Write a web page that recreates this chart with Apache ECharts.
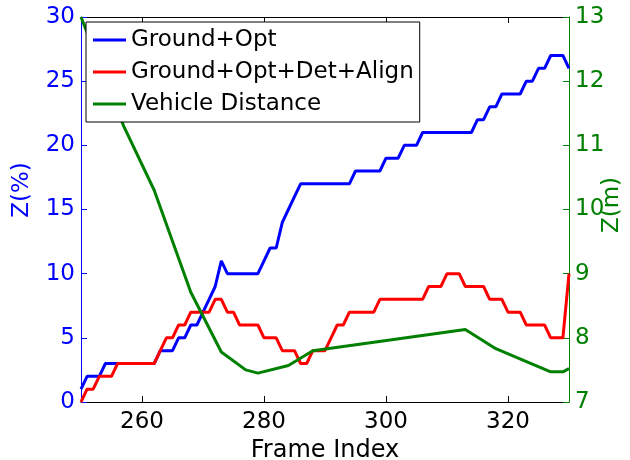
<!DOCTYPE html>
<html>
<head>
<meta charset="utf-8">
<script src="https://cdn.jsdelivr.net/npm/echarts@6/dist/echarts.min.js"></script>
<style>
  html, body { margin: 0; padding: 0; background: #fff; }
  #chart { width: 630px; height: 460px; }
</style>
</head>
<body>
<div id="chart"></div>
<script>
// Frame indices shared by the two percentage series
const frames = [
  250, 251, 252, 253, 254, 255, 256, 257, 258, 259,
  260, 261, 262, 263, 264, 265, 266, 267, 268, 269,
  270, 271, 272, 273, 274, 275, 276, 277, 278, 279,
  280, 281, 282, 283, 284, 285, 286, 287, 288, 289,
  290, 291, 292, 293, 294, 295, 296, 297, 298, 299,
  300, 301, 302, 303, 304, 305, 306, 307, 308, 309,
  310, 311, 312, 313, 314, 315, 316, 317, 318, 319,
  320, 321, 322, 323, 324, 325, 326, 327, 328, 329,
  330
];

// Z (%) for Ground+Opt
const groundOpt = [
  1, 2, 2, 2, 3, 3, 3, 3, 3, 3,
  3, 3, 3, 4, 4, 4, 5, 5, 6, 6,
  7, 8, 9, 11, 10, 10, 10, 10, 10, 10,
  11, 12, 12, 14, 15, 16, 17, 17, 17, 17,
  17, 17, 17, 17, 17, 18, 18, 18, 18, 18,
  19, 19, 19, 20, 20, 20, 21, 21, 21, 21,
  21, 21, 21, 21, 21, 22, 22, 23, 23, 24,
  24, 24, 24, 25, 25, 26, 26, 27, 27, 27,
  26
];

// Z (%) for Ground+Opt+Det+Align
const groundOptDetAlign = [
  0, 1, 1, 2, 2, 2, 3, 3, 3, 3,
  3, 3, 3, 4, 5, 5, 6, 6, 7, 7,
  7, 7, 8, 8, 7, 7, 6, 6, 6, 6,
  5, 5, 5, 4, 4, 4, 3, 3, 4, 4,
  4, 5, 6, 6, 7, 7, 7, 7, 7, 8,
  8, 8, 8, 8, 8, 8, 8, 9, 9, 9,
  10, 10, 10, 9, 9, 9, 9, 8, 8, 8,
  7, 7, 7, 6, 6, 6, 6, 5, 5, 5,
  10
];

// Vehicle distance Z (m), right axis
const distFrames = [250, 257, 262, 268, 273, 277, 279, 284, 288, 313, 318, 327, 329, 330];
const distValues = [13.0, 11.3, 10.3, 8.71, 7.78, 7.50, 7.45, 7.57, 7.80, 8.13, 7.83, 7.47, 7.47, 7.52];

// Axis ticks
const xTicks = [260, 280, 300, 320];
const seriesNames = ['Ground+Opt', 'Ground+Opt+Det+Align', 'Vehicle Distance'];

const FONT = 'DejaVu Sans';
const BLUE = '#0000ff';
const RED = '#ff0000';
const GREEN = '#008000';

const pairs = (xs, ys) => xs.map((x, i) => [x, ys[i]]);

const chart = echarts.init(document.getElementById('chart'), null, { renderer: 'canvas' });

chart.setOption({
  animation: false,
  backgroundColor: '#ffffff',
  grid: { left: 81, right: 61, top: 17, bottom: 58, containLabel: false, outerBoundsMode: 'none' },
  legend: {
    orient: 'vertical',
    left: 86,
    top: 22,
    data: seriesNames.map(n => ({ name: n, icon: 'rect' })),
    itemWidth: 33,
    itemHeight: 3,
    itemGap: 8,
    padding: [6, 6, 6, 7],
    backgroundColor: '#ffffff',
    borderColor: '#000000',
    borderWidth: 1,
    textStyle: { fontFamily: FONT, fontSize: 23, color: '#000', lineHeight: 24 },
    z: 10
  },
  xAxis: [
    {
      type: 'value',
      position: 'bottom',
      min: 250,
      max: 330,
      name: 'Frame Index',
      nameLocation: 'middle',
      nameGap: 33,
      nameTextStyle: { fontFamily: FONT, fontSize: 24, color: '#000' },
      axisLine: { lineStyle: { color: '#000', width: 1 } },
      axisTick: { inside: true, length: 6, customValues: xTicks, lineStyle: { color: '#000' } },
      axisLabel: { customValues: xTicks, fontFamily: FONT, fontSize: 23, color: '#000', margin: 9 },
      splitLine: { show: false }
    },
    {
      type: 'value',
      position: 'top',
      min: 250,
      max: 330,
      axisLine: { lineStyle: { color: '#000', width: 1 } },
      axisTick: { inside: true, length: 6, customValues: xTicks, lineStyle: { color: '#000' } },
      axisLabel: { show: false },
      splitLine: { show: false }
    }
  ],
  yAxis: [
    {
      type: 'value',
      position: 'left',
      min: 0,
      max: 30,
      interval: 5,
      axisLine: { show: true, lineStyle: { color: BLUE, width: 1 } },
      axisTick: { show: true, inside: true, length: 6, lineStyle: { color: BLUE } },
      axisLabel: { fontFamily: FONT, fontSize: 23, color: BLUE, margin: 6 },
      splitLine: { show: false }
    },
    {
      type: 'value',
      position: 'right',
      min: 7,
      max: 13,
      interval: 1,
      axisLine: { show: true, lineStyle: { color: GREEN, width: 1 } },
      axisTick: { show: true, inside: true, length: 6, lineStyle: { color: GREEN } },
      axisLabel: { fontFamily: FONT, fontSize: 23, color: GREEN, margin: 6 },
      splitLine: { show: false }
    }
  ],
  graphic: [
    {
      type: 'text',
      x: 22, y: 190,
      rotation: Math.PI / 2,
      style: { text: 'Z(%)', fontFamily: FONT, fontSize: 23, fill: BLUE, align: 'center', verticalAlign: 'middle' }
    },
    {
      type: 'text',
      x: 612, y: 205,
      rotation: Math.PI / 2,
      style: { text: 'Z(m)', fontFamily: FONT, fontSize: 23, fill: GREEN, align: 'center', verticalAlign: 'middle' }
    }
  ],
  series: [
    {
      name: seriesNames[0],
      type: 'line',
      xAxisIndex: 0,
      yAxisIndex: 0,
      data: pairs(frames, groundOpt),
      symbol: 'none',
      lineStyle: { color: BLUE, width: 3 },
      itemStyle: { color: BLUE },
      z: 3
    },
    {
      name: seriesNames[1],
      type: 'line',
      xAxisIndex: 0,
      yAxisIndex: 0,
      data: pairs(frames, groundOptDetAlign),
      symbol: 'none',
      lineStyle: { color: RED, width: 3 },
      itemStyle: { color: RED },
      z: 4
    },
    {
      name: seriesNames[2],
      type: 'line',
      xAxisIndex: 0,
      yAxisIndex: 1,
      data: pairs(distFrames, distValues),
      symbol: 'none',
      lineStyle: { color: GREEN, width: 3 },
      itemStyle: { color: GREEN },
      z: 5
    }
  ]
});
</script>
</body>
</html>
